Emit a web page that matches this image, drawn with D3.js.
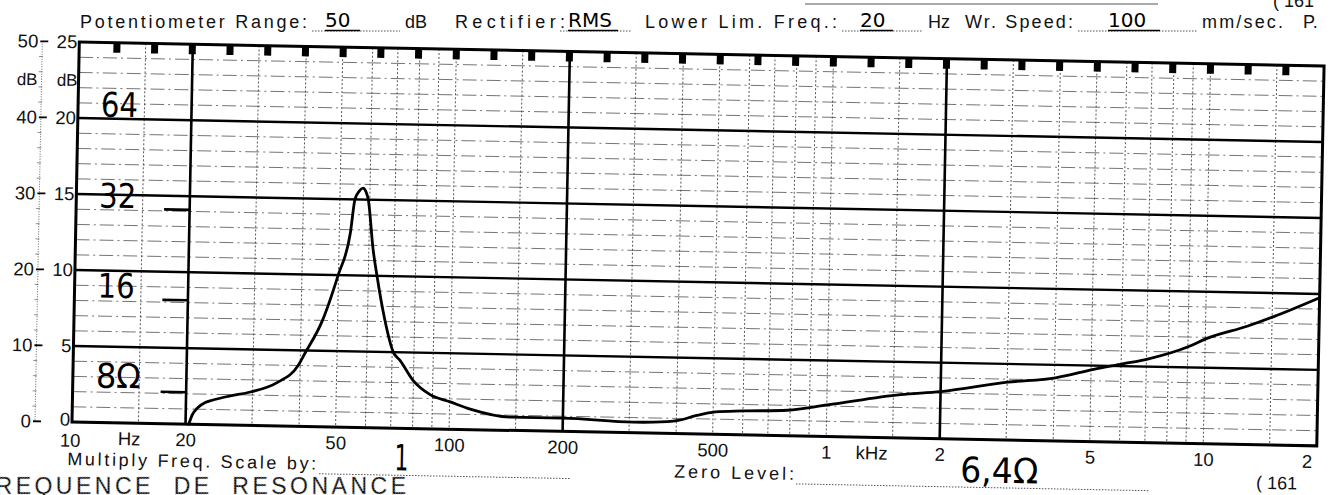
<!DOCTYPE html>
<html>
<head>
<meta charset="utf-8">
<script src="https://cdn.jsdelivr.net/npm/d3@7"></script>
<style>
  html, body { margin: 0; padding: 0; background: #fff; }
  svg { display: block; }
  text { font-family: "Liberation Sans", Arial, sans-serif; fill: #111; }
  .hand { font-family: "DejaVu Sans", sans-serif; fill: #000; }
</style>
</head>
<body>
<div id="chart"></div>
<script>
// impedance curve (dB on the 50 dB scale)
const freqHz = [20.4, 20.8, 21.5, 22.5, 23.6, 26, 29.6, 34.8, 39.5, 41.2, 45.5, 49.9, 53.5, 54.8, 56.2, 57.5, 58.6, 59.4, 61.6, 63.3, 66.5, 70.5, 73.6, 79.9, 88.7, 100.4, 113.5, 145, 200, 307, 348, 405, 450, 507, 600, 787, 1004, 1567, 2000, 3008, 4030, 5077, 6058, 7050, 9050, 10030, 12950, 15150, 20000];
const impedDb = [0, 1.2, 2.2, 2.9, 3.25, 3.8, 4.4, 5.7, 8.0, 9.7, 13.9, 20, 25.6, 30, 31.1, 31.5, 31.0, 30.1, 23.4, 19.9, 14.5, 10.0, 8.9, 6.3, 4.5, 3.6, 2.7, 1.75, 1.75, 1.4, 1.45, 1.75, 2.4, 2.95, 3.15, 3.35, 4.15, 5.7, 6.2, 7.6, 8.3, 9.5, 10.3, 11.0, 12.75, 13.8, 15.6, 16.9, 19.5];

// paper grid
const gridFreqs = [15, 30, 40, 50, 60, 70, 80, 90, 100, 150, 300, 400, 500, 600, 700, 800, 900, 1000, 1500, 3000, 4000, 5000, 6000, 7000, 8000, 9000, 10000, 15000];
const heavyFreqs = [20, 200, 2000];
const freqTicks = [10, 20, 50, 100, 200, 500, 1000, 2000, 5000, 10000, 20000];
const freqTickLabels = ["10", "20", "50", "100", "200", "500", "1", "2", "5", "10", "2"];
const dbMajor = [0, 10, 20, 30, 40, 50];
const dbLabels50 = ["0", "10", "20", "30", "40", "50"];
const dbLabels25 = ["0", "5", "10", "15", "20", "25"];

// pen notes on the sheet
const ohmLabels = ["64", "32", "16", "8Ω"];
const ohmLevels = [40, 30, 20, 10];
const handTickDb = [28.2, 16.3, 4.2];

const W = 1332, H = 495;
const svg = d3.select("#chart").append("svg").attr("width", W).attr("height", H);
svg.append("rect").attr("width", W).attr("height", H).attr("fill", "#fff");

const x = d3.scaleLog().domain([10, 20000]).range([72, 1317]);
const y = d3.scaleLinear().domain([0, 50]).range([422, 42]);

// header line of the form
const head = svg.append("g");
const headText = (t, x0, w) => {
  const el = head.append("text").attr("x", x0).attr("y", 28).attr("font-size", 18).text(t);
  if (w) el.attr("textLength", w).attr("lengthAdjust", "spacing");
};
headText("Potentiometer Range:", 80, 227);
headText("dB", 405);
headText("Rectifier:", 455, 110);
headText("Lower Lim. Freq.:", 645, 192);
headText("Hz", 928);
headText("Wr. Speed:", 965, 108);
headText("mm/sec.", 1202, 81);
headText("P.", 1303);

const dotted = (g, x1, x2, yy) => g.append("line")
  .attr("x1", x1).attr("x2", x2).attr("y1", yy).attr("y2", yy)
  .attr("stroke", "#555").attr("stroke-width", 1).attr("stroke-dasharray", "1.5,1.5");
dotted(head, 312, 400, 31);
dotted(head, 560, 632, 31);
dotted(head, 842, 922, 31);
dotted(head, 1078, 1198, 31);
const handHead = (t, x0, x1) => {
  head.append("text").attr("class", "hand").attr("x", x0).attr("y", 27).attr("font-size", 20).text(t);
  head.append("line").attr("x1", x0).attr("x2", x1).attr("y1", 30.5).attr("y2", 30.5)
    .attr("stroke", "#000").attr("stroke-width", 1.3);
};
handHead("50", 325, 360);
handHead("RMS", 568, 618);
handHead("20", 860, 893);
handHead("100", 1108, 1160);

// remnants of the neighbouring sheet
head.append("line").attr("x1", 805).attr("x2", 1158).attr("y1", 4).attr("y2", 4)
  .attr("stroke", "#555").attr("stroke-width", 1);
head.append("text").attr("x", 1273).attr("y", 7).attr("font-size", 18).text("( 161");

// the paper itself sits slightly skewed in the scan
const g = svg.append("g").attr("transform", "rotate(1.1, 72, 422)");

const minorDb = d3.range(2, 50, 2).filter(d => d % 10 !== 0);
g.append("g").selectAll("line").data(minorDb).join("line")
  .attr("x1", x.range()[0]).attr("x2", x.range()[1])
  .attr("y1", d => y(d)).attr("y2", d => y(d))
  .attr("stroke", "#666").attr("stroke-width", 0.9).attr("stroke-dasharray", "14,4,2,4");

g.append("g").selectAll("line").data(gridFreqs).join("line")
  .attr("x1", d => x(d)).attr("x2", d => x(d))
  .attr("y1", y(50)).attr("y2", y(0))
  .attr("stroke", "#444").attr("stroke-width", 0.9).attr("stroke-dasharray", "2,2");

g.append("g").selectAll("line").data(dbMajor.slice(1, -1)).join("line")
  .attr("x1", x.range()[0]).attr("x2", x.range()[1])
  .attr("y1", d => y(d)).attr("y2", d => y(d))
  .attr("stroke", "#000").attr("stroke-width", 2.4);

g.append("g").selectAll("line").data(heavyFreqs).join("line")
  .attr("x1", d => x(d)).attr("x2", d => x(d))
  .attr("y1", y(50)).attr("y2", y(0))
  .attr("stroke", "#000").attr("stroke-width", 2.6);

g.append("rect")
  .attr("x", x(10)).attr("y", y(50))
  .attr("width", x(20000) - x(10)).attr("height", y(0) - y(50))
  .attr("fill", "none").attr("stroke", "#000").attr("stroke-width", 3);

// timing marks along the top edge, every tenth of a decade
const markDecades = d3.range(1, 33).map(k => 1 + k / 10);
g.append("g").selectAll("rect").data(markDecades).join("rect")
  .attr("x", d => x(Math.pow(10, d)) - 3.5).attr("y", y(50))
  .attr("width", 7).attr("height", 10).attr("fill", "#000");

// left double scale
const ls = g.append("g");
ls.append("line").attr("x1", 35).attr("x2", 35).attr("y1", y(50)).attr("y2", y(0))
  .attr("stroke", "#666").attr("stroke-width", 1).attr("stroke-dasharray", "1,1.5");
ls.selectAll(".mt").data(minorDb).join("line").attr("class", "mt")
  .attr("x1", 32).attr("x2", 36).attr("y1", d => y(d)).attr("y2", d => y(d))
  .attr("stroke", "#777").attr("stroke-width", 0.8);
ls.selectAll(".Mt").data(dbMajor).join("line").attr("class", "Mt")
  .attr("x1", 33).attr("x2", 41).attr("y1", d => y(d)).attr("y2", d => y(d))
  .attr("stroke", "#000").attr("stroke-width", 1.8);
ls.selectAll(".l50").data(dbMajor).join("text").attr("class", "l50")
  .attr("x", 31).attr("y", d => y(d)).attr("dy", "0.34em")
  .attr("text-anchor", "end").attr("font-size", 18.5).text((d, i) => dbLabels50[i]);
ls.selectAll(".l25").data(dbMajor).join("text").attr("class", "l25")
  .attr("x", 70).attr("y", d => y(d)).attr("dy", (d) => d === 0 ? "0.2em" : "0.34em")
  .attr("text-anchor", "end").attr("font-size", 18.5).text((d, i) => dbLabels25[i]);
ls.append("text").attr("x", 31).attr("y", 86).attr("text-anchor", "end").attr("font-size", 17).text("dB");
ls.append("text").attr("x", 71).attr("y", 86).attr("text-anchor", "end").attr("font-size", 17).text("dB");

// frequency axis
const ax = g.append("g").attr("transform", `translate(0,${y(0)})`)
  .call(d3.axisBottom(x).tickValues(freqTicks).tickFormat((d, i) => freqTickLabels[i]).tickSize(0).tickPadding(9));
ax.select(".domain").remove();
ax.selectAll("text").attr("font-size", 18.5).attr("font-family", "Liberation Sans, Arial, sans-serif").attr("fill", "#111");
ax.selectAll(".tick").filter(d => d === 20000).select("text").attr("x", -10);
ax.selectAll(".tick").filter(d => d === 10).select("text").attr("x", -2).attr("dy", "0.85em");
g.append("text").attr("x", x(14.2)).attr("y", 444).attr("text-anchor", "middle").attr("font-size", 18.5).text("Hz");
g.append("text").attr("x", x(1200)).attr("y", 444).attr("font-size", 18.5).text("kHz");

// pen notes
g.append("g").selectAll("line").data(handTickDb).join("line")
  .attr("x1", x(10) + 88).attr("x2", x(20)).attr("y1", d => y(d)).attr("y2", d => y(d))
  .attr("stroke", "#000").attr("stroke-width", 2.6);
const ohmOffsets = [-2, 13, 27, 41];
g.append("g").selectAll("text").data(ohmLabels).join("text")
  .attr("class", "hand")
  .attr("x", 95).attr("y", (d, i) => y(ohmLevels[i]) + ohmOffsets[i])
  .attr("font-size", 34)
  .attr("textLength", d => d === "8Ω" ? 45 : 37)
  .attr("lengthAdjust", "spacingAndGlyphs")
  .text(d => d);

// the measured curve
const line = d3.line().x((d, i) => x(freqHz[i])).y(d => y(d)).curve(d3.curveMonotoneX);
g.append("path").datum(impedDb)
  .attr("d", line).attr("fill", "none")
  .attr("stroke", "#000").attr("stroke-width", 2.8)
  .attr("stroke-linejoin", "round").attr("stroke-linecap", "round");

// form fields under the chart
g.append("text").attr("x", 68).attr("y", 465).attr("font-size", 18)
  .attr("textLength", 249).attr("lengthAdjust", "spacing").text("Multiply Freq. Scale by:");
dotted(g, 320, 572, 469);
g.append("text").attr("class", "hand").attr("x", 402).attr("y", 464).attr("text-anchor", "middle")
  .attr("font-size", 36).attr("textLength", 14).attr("lengthAdjust", "spacingAndGlyphs").text("1");
g.append("text").attr("x", 675).attr("y", 466).attr("font-size", 18)
  .attr("textLength", 120).attr("lengthAdjust", "spacing").text("Zero Level:");
dotted(g, 797, 1150, 470);
g.append("text").attr("class", "hand").attr("x", 961).attr("y", 465).attr("font-size", 35)
  .attr("textLength", 78).attr("lengthAdjust", "spacingAndGlyphs").text("6,4Ω");
g.append("text").attr("x", 1257).attr("y", 466).attr("font-size", 18).text("( 161");

// faint stamp at the bottom edge
svg.append("text")
  .attr("x", -22).attr("y", 494)
  .attr("font-size", 23)
  .attr("textLength", 428).attr("lengthAdjust", "spacing")
  .style("white-space", "pre")
  .attr("fill", "none").attr("stroke", "#b4b4b4").attr("stroke-width", 0.8)
  .attr("stroke-dasharray", "1.2,1.4")
  .text("FREQUENCE  DE  RESONANCE");
</script>
</body>
</html>
